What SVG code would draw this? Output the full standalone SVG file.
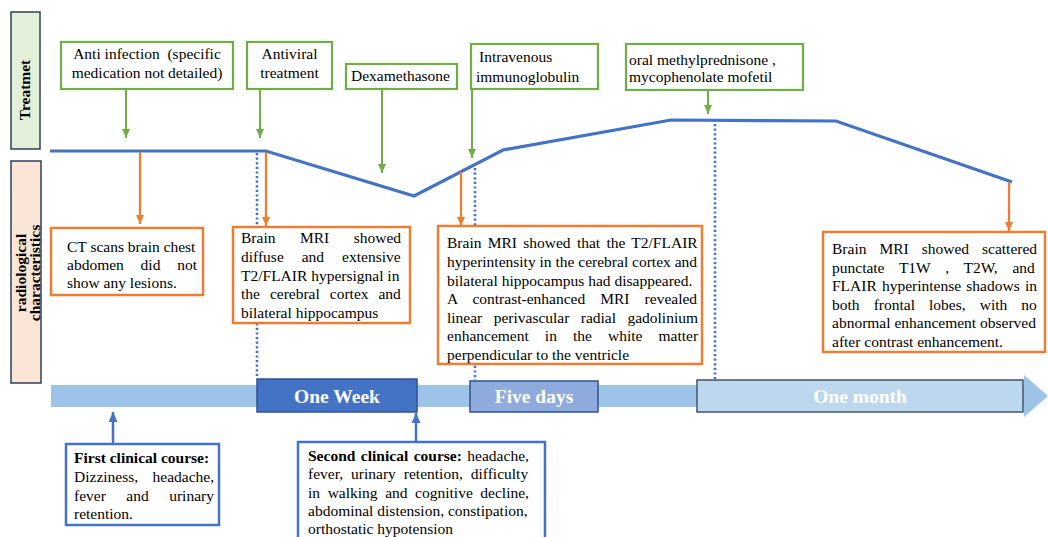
<svg xmlns="http://www.w3.org/2000/svg" width="1048" height="537" viewBox="0 0 1048 537">
<style>
text{font-family:"Liberation Serif","Times New Roman",serif;font-size:15.5px;fill:#000}
.b{font-weight:bold}
.lbl{font-weight:bold;font-size:15.5px}
.gbox{fill:#fff;stroke:#70ad47;stroke-width:2.2}
.obox{fill:#fff;stroke:#ed7d31;stroke-width:2.5}
.bbox{fill:#fff;stroke:#4472c4;stroke-width:2.5}
.garr{stroke:#70ad47;stroke-width:2;fill:none;marker-end:url(#mg)}
.oarr{stroke:#ed7d31;stroke-width:2.3;fill:none;marker-end:url(#mo)}
.barr{stroke:#4472c4;stroke-width:2.5;fill:none;marker-end:url(#mb)}
.dot{stroke:#4472c4;stroke-width:2.6;stroke-dasharray:2.2 2.4;fill:none}
.tl{font-weight:bold;font-size:19.5px;fill:#fff;text-anchor:middle}
</style>
<defs>
<marker id="mg" markerUnits="userSpaceOnUse" markerWidth="9" markerHeight="8" refX="9" refY="4" orient="auto"><path d="M0,0 L9,4 L0,8 z" fill="#70ad47"/></marker>
<marker id="mo" markerUnits="userSpaceOnUse" markerWidth="9" markerHeight="8" refX="9" refY="4" orient="auto"><path d="M0,0 L9,4 L0,8 z" fill="#ed7d31"/></marker>
<marker id="mb" markerUnits="userSpaceOnUse" markerWidth="10" markerHeight="9" refX="10" refY="4.5" orient="auto"><path d="M0,0 L10,4.5 L0,9 z" fill="#4472c4"/></marker>
</defs>

<g id="lane-treatment">
<rect x="11" y="12" width="29" height="137" fill="#e2f0d9" stroke="#2f3e5a" stroke-width="1.5"/>
<text class="lbl" text-anchor="middle" transform="translate(30,90) rotate(-90)">Treatmet</text>
</g>
<g id="lane-radiological">
<rect x="11" y="161" width="30" height="222" fill="#fbe5d6" stroke="#2f3e5a" stroke-width="1.5"/>
<text class="lbl" text-anchor="middle" transform="translate(26,273) rotate(-90)">radiological</text>
<text class="lbl" text-anchor="middle" transform="translate(39.5,273) rotate(-90)">characteristics</text>
</g>

<g id="connectors">
<polyline points="50,151 266,151 414,196 503,150 671,120 836,121 1012,182" fill="none" stroke="#4472c4" stroke-width="3.2"/>
<line class="dot" x1="257" y1="153" x2="257" y2="378"/>
<line class="dot" x1="475" y1="168" x2="475" y2="380"/>
<line class="dot" x1="715" y1="124" x2="715" y2="380"/>
<line class="garr" x1="126" y1="89" x2="126" y2="138"/>
<line class="garr" x1="260" y1="89" x2="260" y2="138"/>
<line class="garr" x1="382" y1="89" x2="382" y2="173"/>
<line class="garr" x1="472" y1="89" x2="472" y2="158"/>
<line class="garr" x1="708" y1="90" x2="708" y2="114"/>
<line class="oarr" x1="140" y1="152" x2="140" y2="224"/>
<line class="oarr" x1="266" y1="152" x2="266" y2="226"/>
<line class="oarr" x1="461" y1="172" x2="461" y2="226"/>
<line class="oarr" x1="1009" y1="182" x2="1009" y2="231"/>
<line class="barr" x1="113" y1="443" x2="113" y2="412"/>
<line class="barr" x1="416" y1="442" x2="416" y2="413"/>
</g>

<g id="timeline">
<rect x="51" y="385" width="975" height="22" fill="#9dc3e6"/>
<polygon points="1024,375 1048,396 1024,417" fill="#9dc3e6"/>
</g>
<g id="period-one-week">
<rect x="257" y="379" width="160" height="33" fill="#4472c4" stroke="#2f528f" stroke-width="1.5"/>
<text class="tl" x="337" y="403">One Week</text>
</g>
<g id="period-five-days">
<rect x="470" y="381" width="128" height="31" fill="#8faadc" stroke="#2f528f" stroke-width="1.5"/>
<text class="tl" x="534" y="403">Five days</text>
</g>
<g id="period-one-month">
<rect x="697" y="380" width="326" height="32" fill="#bdd7ee" stroke="#44546a" stroke-width="1.5"/>
<text class="tl" x="860" y="403">One month</text>
</g>

<g id="t-anti-infection">
<rect class="gbox" x="61" y="42" width="172" height="47"/>
<text x="147" y="59" text-anchor="middle" xml:space="preserve">Anti infection  (specific</text>
<text x="147" y="78" text-anchor="middle">medication not detailed)</text>
</g>
<g id="t-antiviral">
<rect class="gbox" x="247" y="42" width="85" height="47"/>
<text x="289.5" y="59" text-anchor="middle">Antiviral</text>
<text x="289.5" y="78" text-anchor="middle">treatment</text>
</g>
<g id="t-dexamethasone">
<rect class="gbox" x="346" y="64" width="111" height="25"/>
<text x="351" y="81">Dexamethasone</text>
</g>
<g id="t-ivig">
<rect class="gbox" x="471" y="44" width="127" height="45"/>
<text x="479" y="62">Intravenous</text>
<text x="476" y="82">immunoglobulin</text>
</g>
<g id="t-oral">
<rect class="gbox" x="626" y="44" width="177" height="46"/>
<text x="629" y="65">oral methylprednisone ,</text>
<text x="629" y="82">mycophenolate mofetil</text>
</g>

<g id="r-ct">
<rect class="obox" x="51" y="228" width="152" height="67"/>
<text x="67" y="252">CT scans brain chest</text>
<text x="67" y="270" word-spacing="12.9">abdomen did not</text>
<text x="67" y="288">show any lesions.</text>
</g>
<g id="r-mri1">
<rect class="obox" x="233" y="227" width="177" height="96"/>
<text x="241" y="243" word-spacing="20.6">Brain MRI showed</text>
<text x="241" y="262" word-spacing="14.1">diffuse and extensive</text>
<text x="241" y="281">T2/FLAIR hypersignal in</text>
<text x="241" y="299" word-spacing="6.1">the cerebral cortex and</text>
<text x="241" y="318">bilateral hippocampus</text>
</g>
<g id="r-mri2">
<rect class="obox" x="438" y="226" width="264" height="138"/>
<text x="447" y="248" word-spacing="2.4">Brain MRI showed that the T2/FLAIR</text>
<text x="447" y="267">hyperintensity in the cerebral cortex and</text>
<text x="447" y="286">bilateral hippocampus had disappeared.</text>
<text x="447" y="304" word-spacing="11.2">A contrast-enhanced MRI revealed</text>
<text x="447" y="323" word-spacing="7.5">linear perivascular radial gadolinium</text>
<text x="447" y="341" word-spacing="12.2">enhancement in the white matter</text>
<text x="447" y="360">perpendicular to the ventricle</text>
</g>
<g id="r-mri3">
<rect class="obox" x="823" y="232" width="222" height="120"/>
<text x="832" y="254" word-spacing="9.1">Brain MRI showed scattered</text>
<text x="832" y="273" word-spacing="10.8">punctate T1W , T2W, and</text>
<text x="832" y="291" word-spacing="1.3">FLAIR hyperintense shadows in</text>
<text x="832" y="310" word-spacing="10.2">both frontal lobes, with no</text>
<text x="832" y="328">abnormal enhancement observed</text>
<text x="832" y="347">after contrast enhancement.</text>
</g>

<g id="c-first">
<rect class="bbox" x="66" y="444" width="153" height="81"/>
<text class="b" x="74" y="463">First clinical course:</text>
<text x="74" y="482" word-spacing="10.5">Dizziness, headache,</text>
<text x="74" y="501" word-spacing="16.6">fever and urinary</text>
<text x="74" y="519">retention.</text>
</g>
<g id="c-second">
<rect class="bbox" x="298" y="442" width="247" height="100"/>
<text x="308" y="461" word-spacing="1.6"><tspan class="b">Second clinical course:</tspan> headache,</text>
<text x="308" y="479" word-spacing="4.1">fever, urinary retention, difficulty</text>
<text x="308" y="498" word-spacing="3.7">in walking and cognitive decline,</text>
<text x="308" y="516">abdominal distension, constipation,</text>
<text x="308" y="534">orthostatic hypotension</text>
</g>
</svg>
